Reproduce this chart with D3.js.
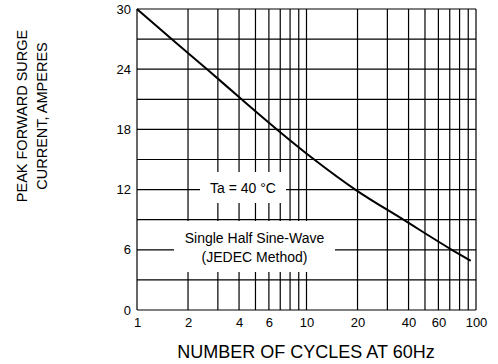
<!DOCTYPE html>
<html><head><meta charset="utf-8">
<script src="https://cdn.jsdelivr.net/npm/d3@7"></script>
<style>body{margin:0;background:#fff}svg{display:block}text{font-family:"Liberation Sans",Arial,sans-serif;fill:#000}</style>
</head><body><svg id="c" width="498" height="364"></svg>
<script>
// data
const cycles = [1, 1.6, 2.59, 4.14, 6.69, 11.1, 19.4, 37.3, 72, 93];
const current = [30, 27, 24, 21, 18, 15, 12, 9, 6, 4.9];
const xTicks = [1, 2, 4, 6, 10, 20, 40, 60, 100];
const yTicks = [0, 6, 12, 18, 24, 30];
const xGrid = [1,2,3,4,5,6,7,8,9,10,20,30,40,50,60,70,80,90,100];
const yGrid = [0,3,6,9,12,15,18,21,24,27,30];
const note1 = ["Ta = 40 °C"];
const note2 = ["Single Half Sine-Wave", "(JEDEC Method)"];

const svg = d3.select("#c");
const L = 137, R = 476, T = 9, B = 310;
const x = d3.scaleLog().domain([1, 100]).range([L, R]);
const y = d3.scaleLinear().domain([0, 30]).range([B, T]);

const g = svg.append("g");
g.selectAll(".vg").data(xGrid).join("line")
  .attr("x1", d => x(d)).attr("x2", d => x(d)).attr("y1", T).attr("y2", B)
  .attr("stroke", "#000").attr("stroke-width", 1.2);
g.selectAll(".hg").data(yGrid).join("line")
  .attr("x1", L).attr("x2", R).attr("y1", d => y(d)).attr("y2", d => y(d))
  .attr("stroke", "#000").attr("stroke-width", 1.2);

// label boxes
svg.append("rect").attr("x", 200).attr("y", 172).attr("width", 86).attr("height", 31).attr("fill", "#fff");
svg.append("rect").attr("x", 174).attr("y", 221).attr("width", 161).attr("height", 51).attr("fill", "#fff");

svg.append("text").attr("x", 243).attr("y", 192.5).attr("text-anchor", "middle")
  .style("font-size", "14px").text(note1[0]);
svg.append("text").attr("text-anchor", "middle").style("font-size", "14px")
  .selectAll("tspan").data(note2).join("tspan")
  .attr("x", 254.5).attr("y", (d, i) => 242.5 + i * 19).text(d => d);

// curve
const line = d3.line().x((d, i) => x(cycles[i])).y(d => y(d)).curve(d3.curveMonotoneX);
svg.append("path").attr("d", line(current)).attr("fill", "none")
  .attr("stroke", "#000").attr("stroke-width", 2);

// axes labels
const xa = svg.append("g").attr("transform", `translate(0,${B})`)
  .call(d3.axisBottom(x).tickValues(xTicks).tickSize(0).tickPadding(8).tickFormat(d3.format("d")));
xa.select(".domain").remove();
xa.selectAll("text").style("font-size", "13px").attr("font-family", null);
const ya = svg.append("g").attr("transform", `translate(${L},0)`)
  .call(d3.axisLeft(y).tickValues(yTicks).tickSize(0).tickPadding(6));
ya.select(".domain").remove();
ya.selectAll("text").style("font-size", "13px").attr("font-family", null);

svg.append("text").attr("x", 306).attr("y", 358).attr("text-anchor", "middle")
  .style("font-size", "18px").text("NUMBER OF CYCLES AT 60Hz");
svg.append("text").attr("transform", "translate(27,116) rotate(-90)").attr("text-anchor", "middle")
  .style("font-size", "14.5px").text("PEAK FORWARD SURGE");
svg.append("text").attr("transform", "translate(47,116) rotate(-90)").attr("text-anchor", "middle")
  .style("font-size", "14.5px").text("CURRENT, AMPERES");
</script></body></html>
